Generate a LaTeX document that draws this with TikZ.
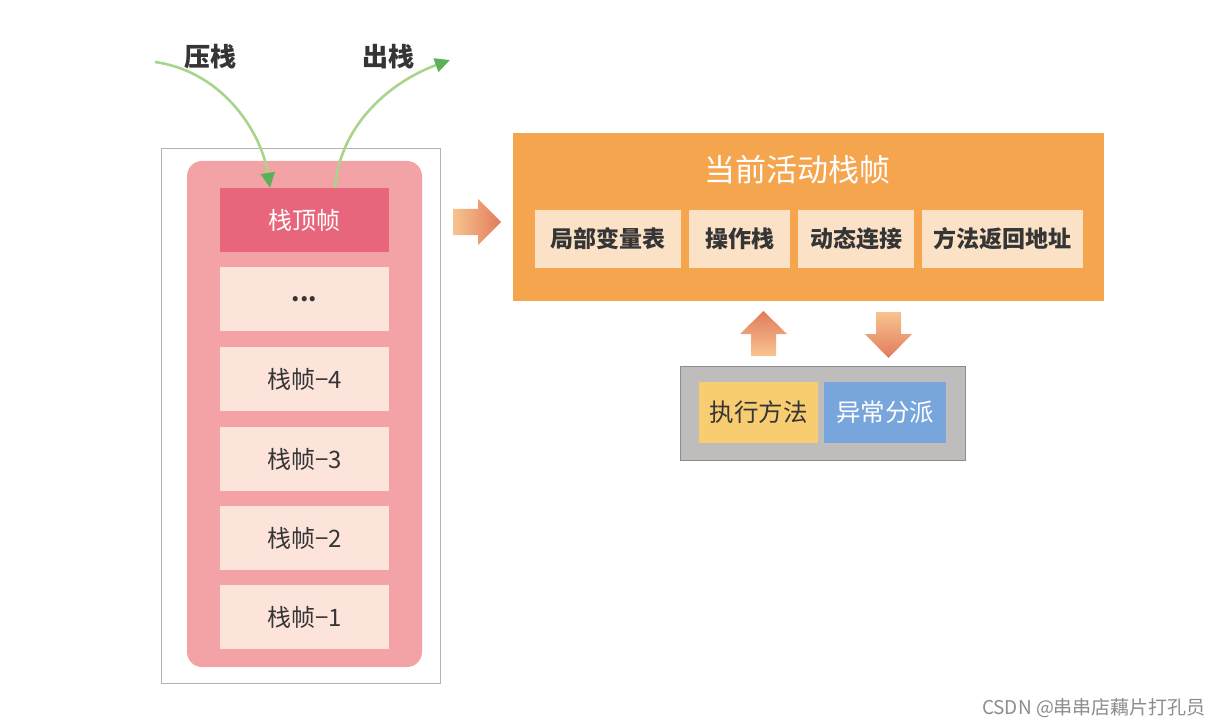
\documentclass[tikz,border=0pt]{standalone}
\usepackage{fontspec}
\setmainfont{Noto Sans CJK SC}
\usetikzlibrary{arrows.meta}
\definecolor{pinkbg}{HTML}{F3A3A6}
\definecolor{topfill}{HTML}{E8667B}
\definecolor{framefill}{HTML}{FDE4DB}
\definecolor{orangebg}{HTML}{F6A54F}
\definecolor{subfill}{HTML}{FBE1C6}
\definecolor{graybg}{HTML}{BEBDBC}
\definecolor{grayline}{HTML}{8C8C8C}
\definecolor{yellowfill}{HTML}{F8CC70}
\definecolor{bluefill}{HTML}{78A5DC}
\definecolor{darktext}{HTML}{353535}
\definecolor{greenhead}{HTML}{5DB05A}
\definecolor{greenline}{HTML}{A9D48C}
\definecolor{arrowlight}{HTML}{F7C48E}
\definecolor{arrowdark}{HTML}{E27B5C}
\tikzset{
  stackframe/.style={rectangle, fill=framefill, minimum width=169bp, minimum height=64bp, inner sep=0pt, text=darktext, font=\fontsize{24bp}{28bp}\selectfont},
  subbox/.style={rectangle, fill=subfill, minimum height=58bp, inner sep=0pt, text=darktext, font=\fontsize{23bp}{27bp}\selectfont\bfseries},
  innerbox/.style={rectangle, minimum width=120bp, minimum height=61bp, inner sep=0pt, font=\fontsize{24.5bp}{28bp}\selectfont},
  greenarrow/.style={draw=greenline, line width=2.6bp, -{Triangle[length=15bp,width=14bp,fill=greenhead,color=greenhead]}},
  toplabel/.style={text=darktext, font=\fontsize{26bp}{29bp}\selectfont\bfseries}
}
\begin{document}
\begin{tikzpicture}[x=1bp,y=-1bp]
\useasboundingbox (0,0) rectangle (1224,727);
% outer frame of the stack
\draw[draw=black!30, line width=0.6bp] (161,148) rectangle (440,683);
\fill[pinkbg, rounded corners=15bp] (187,161) rectangle (422,667);
% stack frames
\node[stackframe, fill=topfill, text=white] (top) at (304.5,220) {栈顶帧};
\node[stackframe] (dots) at (304.5,299) {\textbf{...}};
\node[stackframe] (f4) at (304.5,379) {栈帧−4};
\node[stackframe] (f3) at (304.5,459) {栈帧−3};
\node[stackframe] (f2) at (304.5,538) {栈帧−2};
\node[stackframe] (f1) at (304.5,617) {栈帧−1};
% push / pop labels
\node[toplabel] (pushlbl) at (210,57) {压栈};
\node[toplabel] (poplbl) at (388,57) {出栈};
\coordinate (pushstart) at (155,62);
\coordinate (popend) at (450,60);
\draw[greenarrow] (pushstart) .. controls (225,72) and (262,135) .. ([xshift=-34.5bp]top.north);
\draw[greenarrow] ([xshift=30.5bp]top.north) .. controls (340,125) and (390,82) .. (popend);
% right block arrow
\shade[left color=arrowlight, right color=arrowdark]
  (453,209) -- (478,209) -- (478,199) -- (501,222) -- (478,245) -- (478,235) -- (453,235) -- cycle;
% current active frame
\node[rectangle, fill=orangebg, minimum width=591bp, minimum height=168bp, inner sep=0pt] (active) at (808.5,217) {};
\node[text=white, font=\fontsize{31bp}{34bp}\selectfont] (title) at (797,170) {当前活动栈帧};
\node[subbox, minimum width=146bp] (locals) at (608,239) {局部变量表};
\node[subbox, minimum width=101bp] (opstack) at (739.5,239) {操作栈};
\node[subbox, minimum width=116bp] (dynlink) at (856,239) {动态连接};
\node[subbox, minimum width=161bp] (retaddr) at (1002.5,239) {方法返回地址};
% up / down arrows
\shade[top color=arrowdark, bottom color=arrowlight]
  (751,356) -- (751,334) -- (740,334) -- (763.5,311) -- (787,334) -- (776,334) -- (776,356) -- cycle;
\shade[top color=arrowlight, bottom color=arrowdark]
  (876,312) -- (901,312) -- (901,334) -- (912,334) -- (888.5,358) -- (865,334) -- (876,334) -- cycle;
% execution box
\node[rectangle, fill=graybg, draw=grayline, line width=1bp, minimum width=285bp, minimum height=94bp, inner sep=0pt] (exec) at (822.5,413) {};
\node[innerbox, fill=yellowfill, text=darktext, minimum width=119bp] (run) at (758.5,412.5) {执行方法};
\node[innerbox, fill=bluefill, text=white, minimum width=122bp] (exc) at (885,412.5) {异常分派};
% watermark
\node[text=black!45, font=\fontsize{19bp}{22bp}\selectfont] (wm) at (1094,708) {CSDN @串串店藕片打孔员};
\end{tikzpicture}
\end{document}
